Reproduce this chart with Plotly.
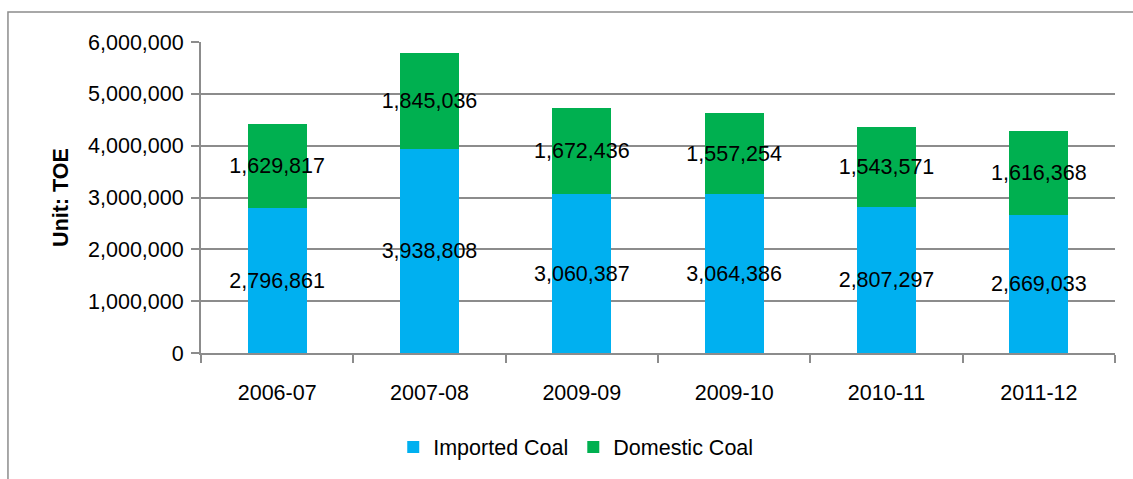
import plotly.graph_objects as go

years = ["2006-07", "2007-08", "2009-09", "2009-10", "2010-11", "2011-12"]
imported_coal = [2796861, 3938808, 3060387, 3064386, 2807297, 2669033]
domestic_coal = [1629817, 1845036, 1672436, 1557254, 1543571, 1616368]
y_ticks = [0, 1000000, 2000000, 3000000, 4000000, 5000000, 6000000]

FONT = "Liberation Sans, Arial, sans-serif"
GRID = "#8c8c8c"
SIZE = 21.5

fig = go.Figure()
for name, vals, color in [
    ("Imported Coal", imported_coal, "#00B0F0"),
    ("Domestic Coal", domestic_coal, "#00B050"),
]:
    fig.add_trace(go.Bar(
        x=years, y=vals, name=name,
        marker=dict(color=color, line=dict(width=0)),
        texttemplate="%{y:,}", textposition="inside", textangle=0,
        insidetextanchor="middle", constraintext="none",
        textfont=dict(family=FONT, size=SIZE, color="black"),
    ))

fig.update_layout(
    width=1133, height=479,
    barmode="stack", bargap=0.613,
    margin=dict(l=201, r=18, t=42, b=126),
    plot_bgcolor="white", paper_bgcolor="white",
    font=dict(family=FONT, size=SIZE, color="black"),
    showlegend=True,
    legend=dict(orientation="h", x=0.41, xanchor="center", y=-0.302, yanchor="middle",
                font=dict(size=SIZE), itemwidth=30, traceorder="normal"),
    shapes=[dict(type="rect", xref="paper", yref="paper",
                 x0=-0.2112, x1=1.1, y0=-0.6, y1=1.0965,
                 line=dict(color=GRID, width=1.5), layer="below")],
)
fig.update_xaxes(
    type="category",
    showgrid=False, showline=True, linecolor=GRID, linewidth=2,
    ticks="outside", tickson="boundaries", ticklen=8, tickcolor=GRID, tickwidth=2,
    ticklabelstandoff=19, tickfont=dict(size=SIZE),
)
fig.update_yaxes(
    range=[0, 6000000], tickvals=y_ticks, tickformat=",",
    showgrid=True, gridcolor=GRID, gridwidth=2,
    showline=True, linecolor=GRID, linewidth=2,
    ticks="outside", ticklen=8, tickcolor=GRID, tickwidth=2,
    ticklabelstandoff=3,
    tickfont=dict(size=SIZE), zeroline=False,
    title=dict(text="<b>Unit: TOE</b>", font=dict(size=SIZE), standoff=14),
)

fig.write_html("out.html")
